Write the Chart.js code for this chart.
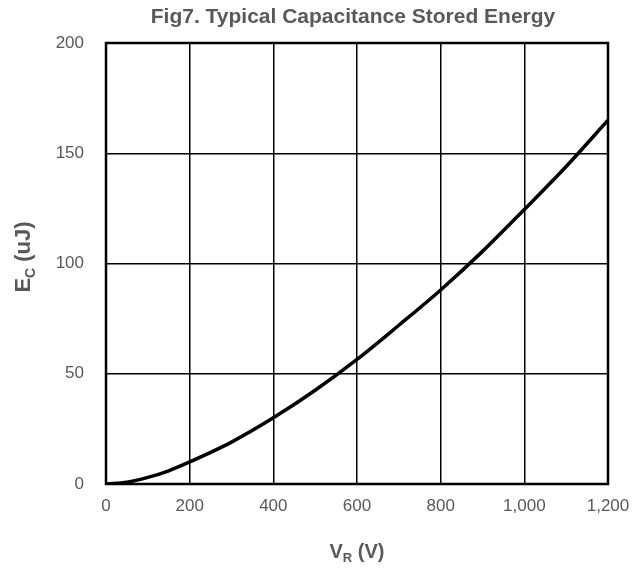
<!DOCTYPE html>
<html>
<head>
<meta charset="utf-8">
<script src="https://cdn.jsdelivr.net/npm/chart.js@4.4.0/dist/chart.umd.min.js"></script>
<style>
  html, body { margin: 0; padding: 0; background: #fff; }
  #wrap { width: 633px; height: 570px; position: relative; }
</style>
</head>
<body>
<div id="wrap"><canvas id="chart"></canvas></div>
<script>
// Reverse voltage (V) and stored energy (uJ)
const voltage = [0, 50, 100, 150, 200, 300, 400, 500, 600, 700, 800, 900, 1000, 1100, 1200];
const energy = [0, 0.8, 3, 6, 10, 19, 30, 42.5, 56.5, 72, 88, 105.5, 124.5, 144, 165];

const titleText = 'Fig7. Typical Capacitance Stored Energy';
const textGrey = '#595959';
const fontFam = 'Arial, "Liberation Sans", sans-serif';

// titles with subscripts + box frame
const decorPlugin = {
    id: 'decor',
    afterDraw(chart) {
        const { ctx, chartArea: a } = chart;
        const cx = (a.left + a.right) / 2;
        ctx.save();
        ctx.fillStyle = textGrey;

        // main title
        ctx.font = 'bold 21px ' + fontFam;
        ctx.textAlign = 'center';
        ctx.textBaseline = 'alphabetic';
        ctx.fillText(titleText, cx - 4, 23);

        // x axis title: V_R (V)
        drawSub(ctx, 'V', 'R', ' (V)', cx, 558, 20);

        // y axis title: E_C (uJ)
        ctx.save();
        ctx.translate(30, 257);
        ctx.rotate(-Math.PI / 2);
        drawSub(ctx, 'E', 'C', ' (uJ)', 0, 0, 22);
        ctx.restore();

        // frame
        ctx.strokeStyle = '#000';
        ctx.lineWidth = 2.5;
        ctx.strokeRect(a.left, a.top, a.right - a.left, a.bottom - a.top);
        ctx.restore();
    }
};

function drawSub(ctx, main, sub, rest, cx, y, size) {
    const big = 'bold ' + size + 'px ' + fontFam;
    const small = 'bold ' + Math.round(size * 0.65) + 'px ' + fontFam;
    ctx.font = big;
    const w1 = ctx.measureText(main).width;
    const w3 = ctx.measureText(rest).width;
    ctx.font = small;
    const w2 = ctx.measureText(sub).width;
    let x = cx - (w1 + w2 + w3) / 2;
    ctx.textAlign = 'left';
    ctx.textBaseline = 'alphabetic';
    ctx.font = big;
    ctx.fillText(main, x, y);
    x += w1;
    ctx.font = small;
    ctx.fillText(sub, x, y + size * 0.22);
    x += w2;
    ctx.font = big;
    ctx.fillText(rest, x, y);
}

new Chart(document.getElementById('chart'), {
    type: 'line',
    data: {
        datasets: [{
            data: voltage.map((v, i) => ({ x: v, y: energy[i] })),
            borderColor: '#000',
            borderWidth: 3.5,
            pointRadius: 0,
            cubicInterpolationMode: 'monotone',
            fill: false
        }]
    },
    options: {
        responsive: true,
        maintainAspectRatio: false,
        animation: false,
        layout: { padding: { top: 43, right: 25, left: 0, bottom: 0 } },
        plugins: {
            legend: { display: false },
            title: { display: false },
            tooltip: { enabled: false }
        },
        scales: {
            x: {
                type: 'linear',
                min: 0,
                max: 1200,
                afterFit: (s) => { s.height = 86; s.paddingLeft = 0; s.paddingRight = 0; },
                ticks: {
                    stepSize: 200,
                    color: textGrey,
                    font: { size: 17, family: fontFam },
                    padding: 12,
                    maxRotation: 0,
                    callback: (v) => v.toLocaleString('en-US')
                },
                grid: { color: '#000', lineWidth: 1.5, drawTicks: false },
                border: { display: false }
            },
            y: {
                min: 0,
                max: 200,
                afterFit: (s) => { s.width = 106; s.paddingTop = 0; s.paddingBottom = 0; },
                ticks: {
                    stepSize: 50,
                    color: textGrey,
                    font: { size: 17, family: fontFam },
                    padding: 22
                },
                grid: { color: '#000', lineWidth: 1.5, drawTicks: false },
                border: { display: false }
            }
        }
    },
    plugins: [decorPlugin]
});
</script>
</body>
</html>
